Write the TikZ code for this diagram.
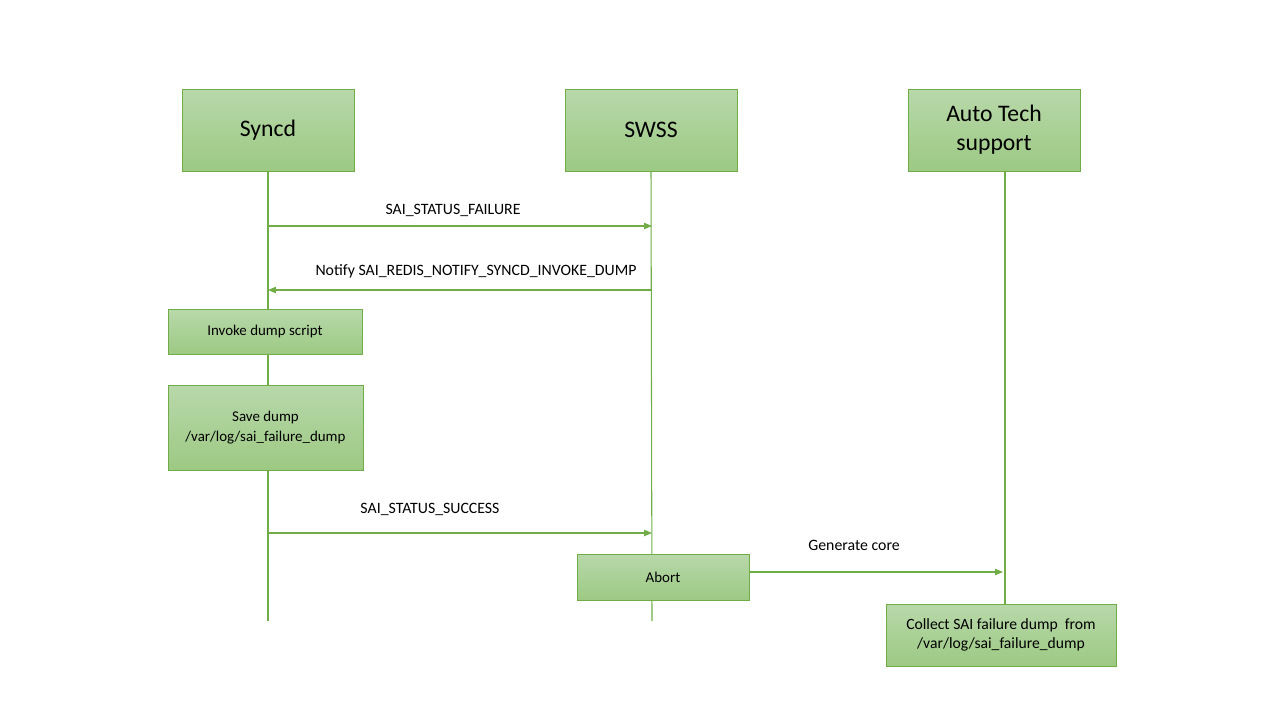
\documentclass[tikz,border=0pt]{standalone}
\usepackage{fontspec}
\setmainfont{Carlito}
\usepackage{xcolor}
\usepackage{tikz}
\usetikzlibrary{arrows.meta,positioning}
\definecolor{officegreen}{RGB}{112,173,71}
\definecolor{boxtop}{RGB}{184,216,170}
\definecolor{boxbottom}{RGB}{156,201,131}

\tikzset{
    greenbox/.style={draw=officegreen, line width=0.5pt, top color=boxtop, bottom color=boxbottom, align=center, inner sep=2pt},
    lifeline/.style={officegreen, line width=0.6pt},
    msg/.style={officegreen, line width=0.6pt, -{Triangle[length=4.5pt,width=3.6pt]}},
    msglabel/.style={font=\fontsize{9}{10.5}\selectfont}
}

\begin{document}
\begin{tikzpicture}[x=0.02cm, y=-0.02cm]
    \useasboundingbox (0,0) rectangle (1280,720);
    % Participants
    \node[greenbox, minimum width=3.44cm, minimum height=1.64cm, font=\fontsize{13.5}{16}\selectfont] (syncd) at (268,130) {Syncd};
    \node[greenbox, minimum width=3.44cm, minimum height=1.64cm, font=\fontsize{13.5}{16}\selectfont] (swss) at (651,130) {SWSS};
    \node[greenbox, minimum width=3.44cm, minimum height=1.64cm, font=\fontsize{13.5}{16.5}\selectfont] (ats) at (994,130) {Auto Tech\\support};
    % Lifelines
    \coordinate (syncdend) at (268,621);
    \coordinate (swssend) at (652,621);
    \coordinate (atstop) at (1005,171);
    \coordinate (atsend) at (1005,604);
    \draw[lifeline] (syncd.south) -- (syncdend);
    \draw[lifeline] (swss.south) -- (swssend);
    \draw[lifeline] (atstop) -- (atsend);
    % Message points
    \coordinate (m1a) at (268,226);
    \coordinate (m1b) at (652,226);
    \coordinate (m2a) at (652,290);
    \coordinate (m2b) at (268,290);
    \coordinate (m3a) at (268,533);
    \coordinate (m3b) at (652,533);
    \coordinate (m4b) at (1003,572);
    % Actions
    \node[greenbox, minimum width=3.88cm, minimum height=0.9cm, font=\fontsize{8.5}{10}\selectfont] (invoke) at (265,332) {Invoke dump script};
    \node[greenbox, minimum width=3.9cm, minimum height=1.7cm, font=\fontsize{8.5}{11}\selectfont] (save) at (265.5,427.5) {Save dump\\/var/log/sai\_failure\_dump};
    \node[greenbox, minimum width=3.44cm, minimum height=0.92cm, font=\fontsize{8.5}{10}\selectfont] (abort) at (663,577) {Abort};
    \node[greenbox, minimum width=4.6cm, minimum height=1.24cm, font=\fontsize{8.9}{11}\selectfont] (collect) at (1001,635) {Collect SAI failure dump\ \ from\\/var/log/sai\_failure\_dump};
    % Messages
    \draw[msg] (m1a) -- (m1b);
    \draw[msg] (m2a) -- (m2b);
    \draw[msg] (m3a) -- (m3b);
    \draw[msg] (abort.east |- m4b) -- (m4b);
    % Labels
    \node[msglabel] (l1) at (453,210) {SAI\_STATUS\_FAILURE};
    \node[msglabel] (l2) at (476,271) {Notify SAI\_REDIS\_NOTIFY\_SYNCD\_INVOKE\_DUMP};
    \node[msglabel] (l3) at (430,509) {SAI\_STATUS\_SUCCESS};
    \node[msglabel] (l4) at (854,545) {Generate core};
\end{tikzpicture}
\end{document}
